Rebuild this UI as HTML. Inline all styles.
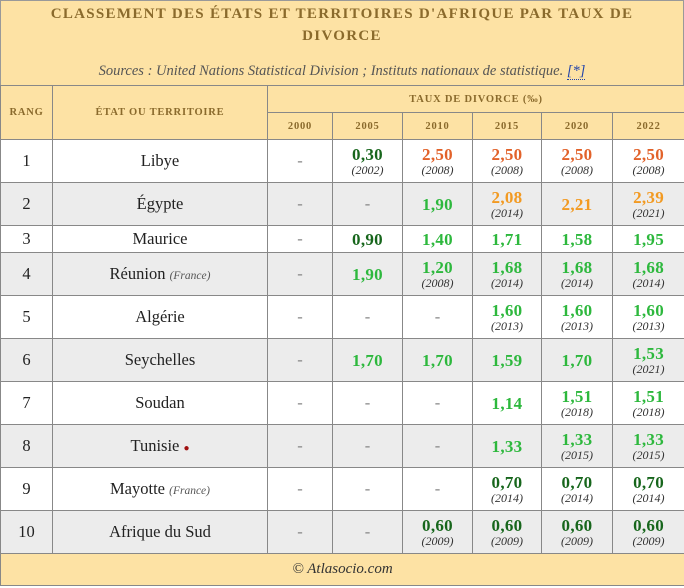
<!DOCTYPE html>
<html><head><meta charset="utf-8"><style>
body{margin:0;width:684px;height:588px;background:#fff;font-family:"Liberation Serif",serif;overflow:hidden}
.top{position:absolute;left:0;top:0;width:682px;height:85px;background:#fde2a4;border:1px solid #999;border-bottom:none}
.t{position:absolute;left:0;width:684px;text-align:center;color:#8a6a2c;font-weight:bold;font-size:15px;letter-spacing:1.3px}
.src{position:absolute;top:63px;left:0;width:684px;text-align:center;font-style:italic;color:#555;font-size:14.5px}
.src span{color:#2244aa;border-bottom:1px dotted #2244aa}
table{position:absolute;left:0;top:85px;border-collapse:collapse;table-layout:fixed;width:684px}
td,th{border:1px solid #888;text-align:center;padding:0;vertical-align:middle}
th{background:#fde2a4;color:#8a6a2c;font-size:10.5px;letter-spacing:.8px}
td{font-size:16.5px;color:#222}
tr.g td{background:#ececec}
.d{color:#888}
.v{font-weight:bold;font-size:17px;line-height:17px;display:block;letter-spacing:.3px}
.y{font-style:italic;font-size:12px;color:#333;display:block;line-height:14px}
.dg{color:#17661c}.lg{color:#2db83d}.or{color:#e2622a}.lo{color:#f29a22}
.fr{font-style:italic;font-size:11.5px;color:#555}
.foot td{background:#fde2a4;height:31px;font-style:italic;font-size:15px;color:#333}
</style></head><body>
<div class="top"></div>
<div class="t" style="top:6px">CLASSEMENT DES ÉTATS ET TERRITOIRES D'AFRIQUE PAR TAUX DE</div>
<div class="t" style="top:28px">DIVORCE</div>
<div class="src">Sources : United Nations Statistical Division ; Instituts nationaux de statistique. <span>[*]</span></div>
<table>
<colgroup><col style="width:52px"><col style="width:215px"><col style="width:65px"><col style="width:70px"><col style="width:70px"><col style="width:69px"><col style="width:71px"><col style="width:72px"></colgroup>
<tr style="height:27px"><th rowspan="2">RANG</th><th rowspan="2">ÉTAT OU TERRITOIRE</th><th colspan="6">TAUX DE DIVORCE (‰)</th></tr>
<tr style="height:27px"><th>2000</th><th>2005</th><th>2010</th><th>2015</th><th>2020</th><th>2022</th></tr>
<tr style="height:43px"><td>1</td><td>Libye</td><td class="d">-</td><td><span class="v dg">0,30</span><span class="y">(2002)</span></td><td><span class="v or">2,50</span><span class="y">(2008)</span></td><td><span class="v or">2,50</span><span class="y">(2008)</span></td><td><span class="v or">2,50</span><span class="y">(2008)</span></td><td><span class="v or">2,50</span><span class="y">(2008)</span></td></tr>
<tr class="g" style="height:43px"><td>2</td><td>Égypte</td><td class="d">-</td><td class="d">-</td><td><span class="v lg">1,90</span></td><td><span class="v lo">2,08</span><span class="y">(2014)</span></td><td><span class="v lo">2,21</span></td><td><span class="v lo">2,39</span><span class="y">(2021)</span></td></tr>
<tr style="height:27px"><td>3</td><td>Maurice</td><td class="d">-</td><td><span class="v dg">0,90</span></td><td><span class="v lg">1,40</span></td><td><span class="v lg">1,71</span></td><td><span class="v lg">1,58</span></td><td><span class="v lg">1,95</span></td></tr>
<tr class="g" style="height:43px"><td>4</td><td>Réunion <span class="fr">(France)</span></td><td class="d">-</td><td><span class="v lg">1,90</span></td><td><span class="v lg">1,20</span><span class="y">(2008)</span></td><td><span class="v lg">1,68</span><span class="y">(2014)</span></td><td><span class="v lg">1,68</span><span class="y">(2014)</span></td><td><span class="v lg">1,68</span><span class="y">(2014)</span></td></tr>
<tr style="height:43px"><td>5</td><td>Algérie</td><td class="d">-</td><td class="d">-</td><td class="d">-</td><td><span class="v lg">1,60</span><span class="y">(2013)</span></td><td><span class="v lg">1,60</span><span class="y">(2013)</span></td><td><span class="v lg">1,60</span><span class="y">(2013)</span></td></tr>
<tr class="g" style="height:43px"><td>6</td><td>Seychelles</td><td class="d">-</td><td><span class="v lg">1,70</span></td><td><span class="v lg">1,70</span></td><td><span class="v lg">1,59</span></td><td><span class="v lg">1,70</span></td><td><span class="v lg">1,53</span><span class="y">(2021)</span></td></tr>
<tr style="height:43px"><td>7</td><td>Soudan</td><td class="d">-</td><td class="d">-</td><td class="d">-</td><td><span class="v lg">1,14</span></td><td><span class="v lg">1,51</span><span class="y">(2018)</span></td><td><span class="v lg">1,51</span><span class="y">(2018)</span></td></tr>
<tr class="g" style="height:43px"><td>8</td><td>Tunisie <span style="color:#a01010;font-size:10px">●</span></td><td class="d">-</td><td class="d">-</td><td class="d">-</td><td><span class="v lg">1,33</span></td><td><span class="v lg">1,33</span><span class="y">(2015)</span></td><td><span class="v lg">1,33</span><span class="y">(2015)</span></td></tr>
<tr style="height:43px"><td>9</td><td>Mayotte <span class="fr">(France)</span></td><td class="d">-</td><td class="d">-</td><td class="d">-</td><td><span class="v dg">0,70</span><span class="y">(2014)</span></td><td><span class="v dg">0,70</span><span class="y">(2014)</span></td><td><span class="v dg">0,70</span><span class="y">(2014)</span></td></tr>
<tr class="g" style="height:43px"><td>10</td><td>Afrique du Sud</td><td class="d">-</td><td class="d">-</td><td><span class="v dg">0,60</span><span class="y">(2009)</span></td><td><span class="v dg">0,60</span><span class="y">(2009)</span></td><td><span class="v dg">0,60</span><span class="y">(2009)</span></td><td><span class="v dg">0,60</span><span class="y">(2009)</span></td></tr>
<tr class="foot"><td colspan="8">© Atlasocio.com</td></tr>
</table>
</body></html>
